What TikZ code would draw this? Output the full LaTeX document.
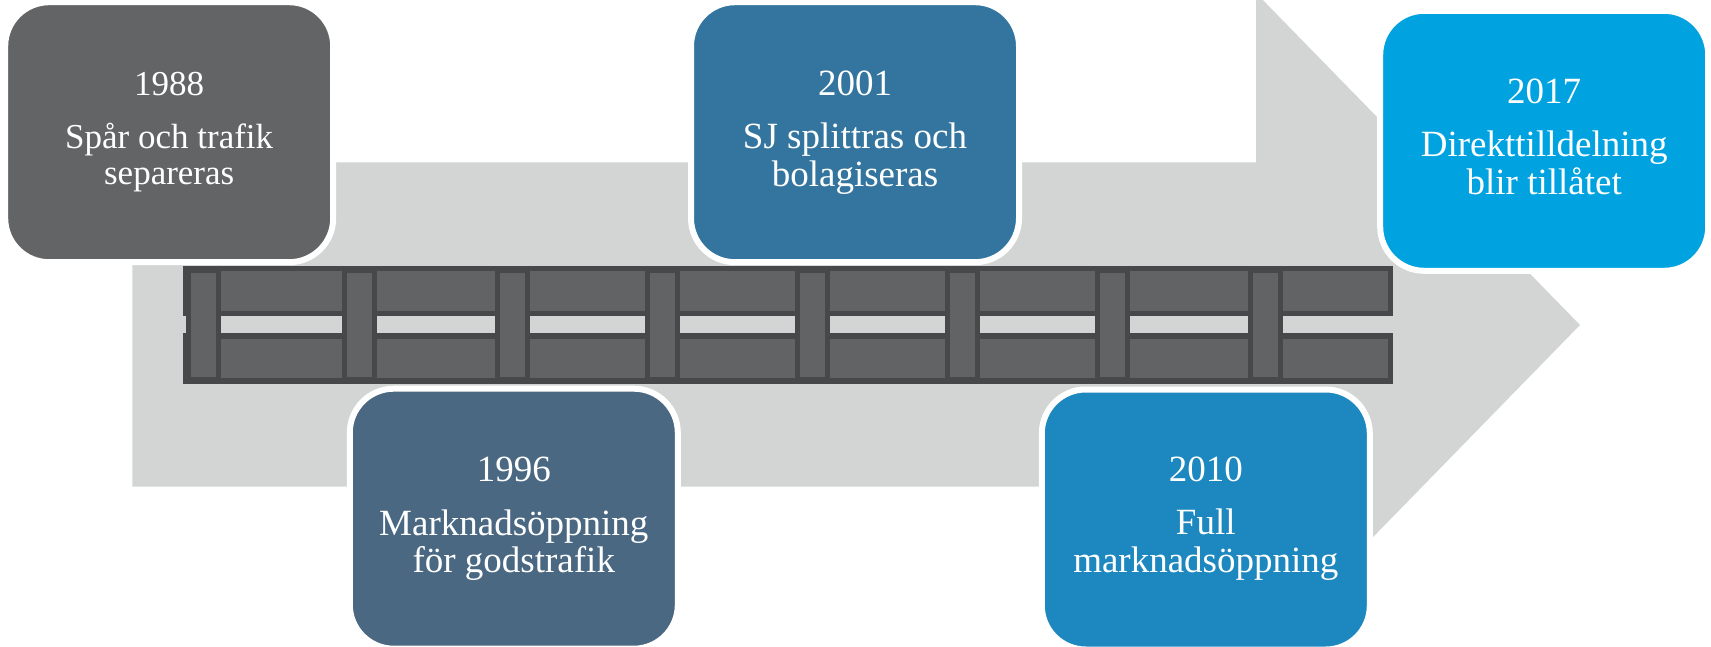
\documentclass[tikz,border=0pt]{standalone}
\usepackage{fontspec}
\setmainfont{Liberation Serif}
\usetikzlibrary{calc}

\definecolor{arrowgrey}{RGB}{211,213,212}
\definecolor{trackdark}{RGB}{71,72,74}
\definecolor{panelgrey}{RGB}{98,99,101}
\definecolor{c88}{RGB}{99,100,102}
\definecolor{c96}{RGB}{74,104,130}
\definecolor{c01}{RGB}{52,117,159}
\definecolor{c10}{RGB}{29,136,191}
\definecolor{c17}{RGB}{0,163,224}

\begin{document}
\begin{tikzpicture}[x=1pt,y=-1pt,
  event/.style={rectangle, rounded corners=44pt, draw=white, line width=6pt,
    minimum width=328pt, minimum height=260pt, inner sep=0pt},
  label/.style={text=white, inner sep=0pt, anchor=base,
    font=\fontsize{37}{38}\selectfont},
  smalllabel/.style={label, font=\fontsize{35}{36}\selectfont}]

\useasboundingbox (0,0) rectangle (1711,647);
\clip (0,0) rectangle (1711,647);

% timeline arrow
\fill[arrowgrey] (132.3,162.3) -- (1256,162.3) -- (1256,-7) -- (1580,325)
  -- (1256,657) -- (1256,486.7) -- (132.3,486.7) -- cycle;

% rails
\fill[trackdark] (182.7,265.7) rectangle (1393.3,316);
\fill[trackdark] (182.7,333.3) rectangle (1393.3,384);
% sleepers
\foreach \L in {191,346.7,500,650,800,950,1100,1252.7} {
  \fill[trackdark] ({\L-5},265.7) rectangle ({\L+30},384);
  \fill[panelgrey] (\L,273.3) rectangle ({\L+25},376.7);
}
% rail panels
\foreach \a/\b in {221/341.7, 376.7/495, 530/645, 680/795, 830/945,
                   980/1095, 1130/1247.7, 1282.7/1388.3} {
  \fill[panelgrey] (\a,270.7) rectangle (\b,310.7);
  \fill[panelgrey] (\a,339) rectangle (\b,378.3);
}

% event boxes
\node[event, fill=c88] (b88) at (169.2,132.2) {};
\node[event, fill=c01] (b01) at (855,132.2) {};
\node[event, fill=c17] (b17) at (1544.2,140.8) {};
\node[event, fill=c96] (b96) at (513.8,518.7) {};
\node[event, fill=c10] (b10) at (1205.8,519.5) {};

% texts
\node[smalllabel] (y88) at ($(b88.north)+(0,96)$) {1988};
\node[smalllabel] (p88) at ($(b88.north)+(0,149)$) {Spår och trafik};
\node[smalllabel] (q88) at ($(b88.north)+(0,185)$) {separeras};

\node[label] (y96) at ($(b96.north)+(0,96)$) {1996};
\node[label] (p96) at ($(b96.north)+(0,149.3)$) {Marknadsöppning};
\node[label] (q96) at ($(b96.north)+(0,187)$) {för godstrafik};

\node[label] (y01) at ($(b01.north)+(0,96)$) {2001};
\node[label] (p01) at ($(b01.north)+(0,149.3)$) {SJ splittras och};
\node[label] (q01) at ($(b01.north)+(0,187)$) {bolagiseras};

\node[label] (y10) at ($(b10.north)+(0,95)$) {2010};
\node[label] (p10) at ($(b10.north)+(0,148.3)$) {Full};
\node[label] (q10) at ($(b10.north)+(0,186)$) {marknadsöppning};

\node[label] (y17) at ($(b17.north)+(0,95.7)$) {2017};
\node[label] (p17) at ($(b17.north)+(0,149)$) {Direkttilldelning};
\node[label] (q17) at ($(b17.north)+(0,187)$) {blir tillåtet};

\end{tikzpicture}
\end{document}
